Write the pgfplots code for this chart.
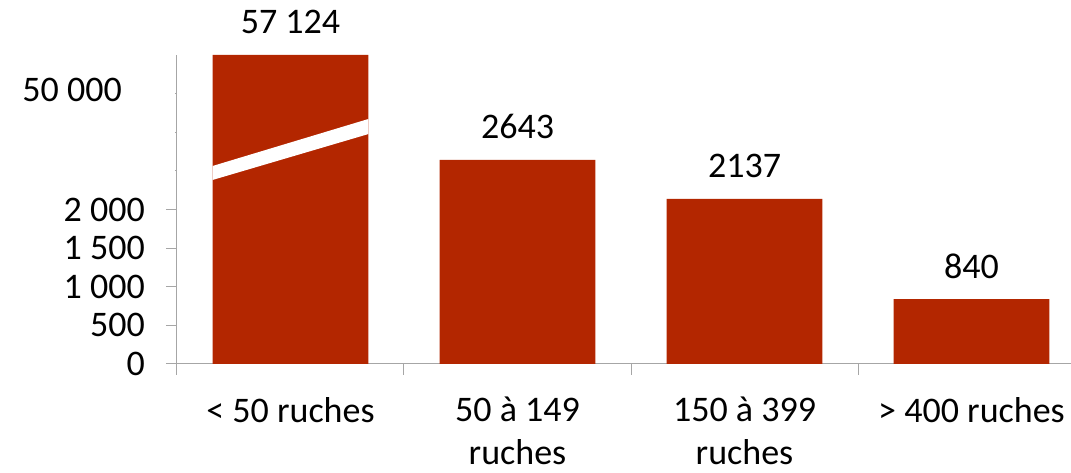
\documentclass[border=0pt]{standalone}
\usepackage{pgfplots}
\pgfplotsset{compat=1.18}
\usepackage{fontspec}
\setmainfont{Carlito}
\definecolor{barred}{HTML}{B32600}
\definecolor{axgray}{HTML}{A6A6A6}
\begin{document}
\begin{tikzpicture}
\begin{axis}[
  at={(0pt,0pt)}, anchor=south west,
  scale only axis, width=908pt, height=309pt,
  xmin=-0.5, xmax=3.5, ymin=0, ymax=4000,
  axis lines*=left,
  axis line style={draw=axgray, line width=1pt},
  tick align=outside,
  major tick length=11pt,
  tick style={draw=axgray, line width=1pt},
  xtick={-0.5,0.5,1.5,2.5,3.5}, xticklabels={},
  extra x ticks={0,1,2,3},
  extra x tick labels={{< 50 ruches},{50 à 149\\ruches},{150 à 399\\ruches},{> 400 ruches}},
  extra x tick style={major tick length=0pt,
    xticklabel style={align=center, anchor=north, inner sep=0pt, yshift=-33pt,
      font=\fontsize{36}{43}\selectfont}},
  ytick={0,500,1000,1500,2000},
  yticklabels={0,500,1 000,1 500,2 000},
  yticklabel style={inner sep=0pt, xshift=-21pt},
  extra y ticks={2500,3000,3500},
  extra y tick labels={,,50 000},
  extra y tick style={major tick length=2pt,
    yticklabel style={xshift=-32pt, yshift=4pt}},
  ticklabel style={font=\fontsize{36}{43}\selectfont},
  ybar, bar width=0.687,
  nodes near coords, point meta=explicit symbolic,
  every node near coord/.append style={font=\fontsize{36}{43}\selectfont,
    anchor=base, yshift=21pt, inner sep=0pt},
]
\addplot[fill=barred, draw=none] coordinates {
  (0,4000) [57 124]
  (1,2643) [2643]
  (2,2137) [2137]
  (3,840)  [840]
};
% broken-axis band across the first bar
\fill[white] (axis cs:-0.3435,2563) -- (axis cs:0.3435,3172)
  -- (axis cs:0.3435,2977) -- (axis cs:-0.3435,2382) -- cycle;
\end{axis}
\pgfresetboundingbox
\useasboundingbox (-177pt,-109pt) rectangle (894pt,364pt);
\end{tikzpicture}
\end{document}
